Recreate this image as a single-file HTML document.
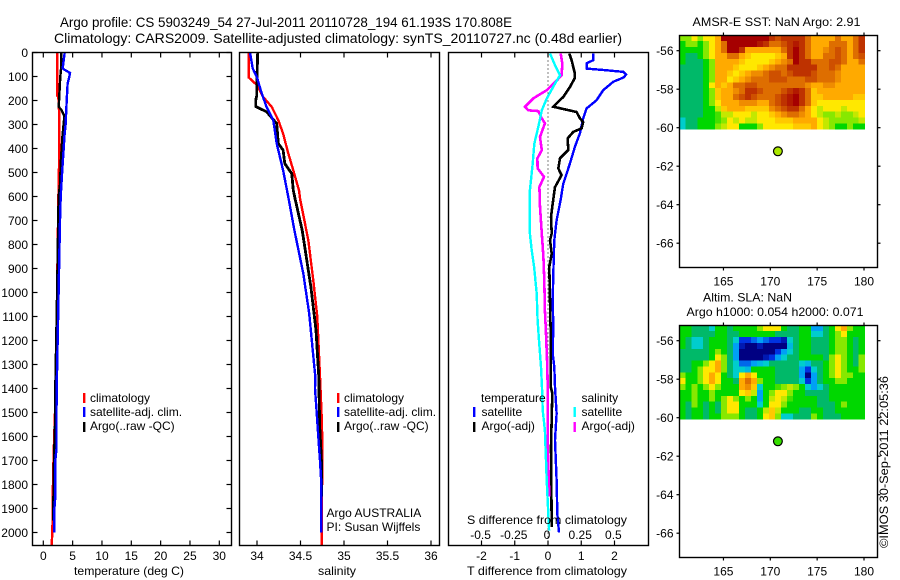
<!DOCTYPE html>
<html>
<head>
<meta charset="utf-8">
<title>Argo profile chart</title>
<style>
html,body{margin:0;padding:0;background:#fff;}
svg{display:block;}
text{font-family:"Liberation Sans",sans-serif;font-size:12px;fill:#000;}
.title{font-size:14px;}
.frame{fill:none;stroke:#000;stroke-width:1.4;}
</style>
</head>
<body>
<svg id="chart" xmlns="http://www.w3.org/2000/svg" width="900" height="580" viewBox="0 0 900 580">
<rect width="900" height="580" fill="#fff"/>
<text class="title" x="60" y="27" textLength="452" lengthAdjust="spacingAndGlyphs">Argo profile: CS 5903249_54 27-Jul-2011 20110728_194 61.193S 170.808E</text>
<text class="title" x="54" y="43" textLength="568" lengthAdjust="spacingAndGlyphs">Climatology: CARS2009. Satellite-adjusted climatology: synTS_20110727.nc (0.48d earlier)</text>

<g id="heat1"></g>
<g id="heat2"></g>
<g id="series"></g>
<g id="axes"></g>

<rect class="frame" x="32.5" y="52.5" width="199" height="493"/>
<rect class="frame" x="239.5" y="52.5" width="200" height="493"/>
<rect class="frame" x="448.5" y="52.5" width="200" height="493"/>
<rect class="frame" x="679.5" y="35.5" width="198" height="232"/>
<rect class="frame" x="679.5" y="325.5" width="198" height="232"/>

<text x="74" y="575" textLength="110" lengthAdjust="spacingAndGlyphs">temperature (deg C)</text>
<text x="318" y="575" textLength="38" lengthAdjust="spacingAndGlyphs">salinity</text>
<text x="467" y="575" textLength="160" lengthAdjust="spacingAndGlyphs">T difference from climatology</text>
<text x="467" y="524" textLength="160" lengthAdjust="spacingAndGlyphs">S difference from climatology</text>

<g>
<rect x="83" y="393" width="2.4" height="10" fill="#f00"/>
<text x="90" y="402">climatology</text>
<rect x="83" y="407" width="2.4" height="10" fill="#00f"/>
<text x="90" y="416">satellite-adj. clim.</text>
<rect x="83" y="422" width="2.4" height="10" fill="#000"/>
<text x="90" y="430">Argo(..raw -QC)</text>
</g>
<g>
<rect x="337" y="393" width="2.4" height="10" fill="#f00"/>
<text x="344" y="402">climatology</text>
<rect x="337" y="407" width="2.4" height="10" fill="#00f"/>
<text x="344" y="416">satellite-adj. clim.</text>
<rect x="337" y="422" width="2.4" height="10" fill="#000"/>
<text x="344" y="430">Argo(..raw -QC)</text>
</g>
<text x="326.5" y="517">Argo AUSTRALIA</text>
<text x="326.5" y="531">PI: Susan Wijffels</text>
<g>
<text x="481" y="402">temperature</text>
<text x="581.5" y="402">salinity</text>
<rect x="473" y="407" width="2.4" height="10" fill="#00f"/>
<text x="481.5" y="416">satellite</text>
<rect x="473" y="422" width="2.4" height="10" fill="#000"/>
<text x="481.5" y="430">Argo(-adj)</text>
<rect x="573.5" y="407" width="2.4" height="10" fill="#0ff"/>
<text x="581.5" y="416">satellite</text>
<rect x="573.5" y="422" width="2.4" height="10" fill="#f0f"/>
<text x="581.5" y="430">Argo(-adj)</text>
</g>

<text x="692.5" y="26" textLength="168" lengthAdjust="spacingAndGlyphs">AMSR-E SST: NaN  Argo: 2.91</text>
<text x="703" y="301.5" textLength="89" lengthAdjust="spacingAndGlyphs">Altim. SLA: NaN</text>
<text x="686.5" y="316" textLength="177" lengthAdjust="spacingAndGlyphs">Argo h1000: 0.054 h2000: 0.071</text>
<text transform="translate(888,548) rotate(-90)" textLength="172" lengthAdjust="spacingAndGlyphs">©IMOS 30-Sep-2011 22:05:36</text>
</svg>
<script>
// ---- axis tick data ----
const depthTicks = [0,100,200,300,400,500,600,700,800,900,1000,1100,1200,1300,1400,1500,1600,1700,1800,1900,2000];
const tempTicks = [0,5,10,15,20,25,30];
const salTicks = [34,34.5,35,35.5,36];
const salTickLabels = ['34','34.5','35','35.5','36'];
const tDiffTicks = [-2,-1,0,1,2];
const sDiffTicks = [-0.5,-0.25,0,0.25,0.5];
const sDiffTickLabels = ['-0.5','-0.25','0','0.25','0.5'];
const lonTicks = [165,170,175,180];
const latTicks = [-56,-58,-60,-62,-64,-66];

// ---- temperature panel series ----
const tClimDepth = [0,180,181,250,400,550,800,1000,1200,1400,1500,1680,1850,2000,2055];
const tClimValue = [2.4,2.4,2.55,2.7,2.75,2.6,2.45,2.35,2.2,2.05,2.0,1.75,1.6,1.55,1.4];
const tSatDepth = [0,65,70,85,100,130,200,300,350,400,500,600,700,1000,1400,1500,1650,1700,1850,1900,2000];
const tSatValue = [3.64,3.3,3.5,4.55,4.45,4.15,3.98,3.8,3.6,3.47,3.2,2.96,2.85,2.6,2.28,2.25,2.25,2.05,2.05,1.9,1.85];
const tArgoDepth = [0,60,100,220,225,240,265,350,450,550,600,1000,1400,1550,1700,1800,1900,1950];
const tArgoValue = [3.07,3.05,2.9,2.65,2.6,3.1,3.6,3.25,3.0,2.85,2.6,2.35,2.05,2.0,1.82,1.75,1.7,1.7];

// ---- salinity panel series ----
const sClimDepth = [0,104,136,185,227,282,338,421,491,574,608,782,949,1102,1351,1450,1550,1700,2000,2055];
const sClimValue = [33.905,33.905,34.0,34.07,34.17,34.245,34.30,34.36,34.417,34.483,34.494,34.59,34.647,34.693,34.724,34.736,34.747,34.75,34.743,34.743];
const sSatDepth = [0,66,104,170,227,282,379,491,574,602,741,921,1088,1351,1400,1500,1600,1700,1800,2000];
const sSatValue = [33.92,33.95,34.0,34.054,34.11,34.187,34.226,34.30,34.345,34.36,34.43,34.532,34.60,34.67,34.667,34.686,34.705,34.724,34.74,34.74];
const sArgoDepth = [0,100,180,200,225,247,296,379,407,463,505,574,608,741,977,1157,1351,1400,1550,1700,1851];
const sArgoValue = [34.008,34.0,33.996,33.985,33.985,34.11,34.226,34.245,34.30,34.32,34.40,34.417,34.437,34.52,34.62,34.678,34.71,34.713,34.72,34.74,34.745];

// ---- difference panel series ----
const dtSatDepth = [4,32,45,67,74,81,92,104,122,157,199,233,274,337,393,463,546,615,699,782,921,1032,1143,1254,1310,1393,1504,1615,1782,1921,2000];
const dtSatValue = [1.36,1.36,1.16,1.16,1.77,2.27,2.35,2.27,1.96,1.66,1.46,1.16,1.06,0.96,0.81,0.66,0.46,0.38,0.26,0.19,0.16,0.14,0.16,0.14,0.19,0.21,0.26,0.21,0.26,0.28,0.33];
const dtArgoDepth = [4,32,88,106,144,185,226,237,248,274,290,316,331,358,406,441,483,511,561,629,685,754,782,838,893,1032,1171,1393,1420,1643,1977];
const dtArgoValue = [0.64,0.71,0.81,0.81,0.66,0.46,0.16,0.51,0.86,0.96,1.06,1.01,0.76,0.59,0.61,0.36,0.31,0.41,0.21,0.14,0.09,0.11,0.06,0.11,0.04,0.06,0.08,0.08,0.13,0.09,0.11];
const dsSatDepth = [4,53,95,130,192,241,310,380,463,574,754,824,893,1005,1116,1199,1310,1398,1490,1574,1782,1921,1992];
const dsSatValue = [0.015,0.053,0.09,0.053,-0.01,-0.047,-0.073,-0.103,-0.115,-0.136,-0.136,-0.123,-0.105,-0.085,-0.078,-0.068,-0.053,-0.045,-0.04,-0.023,-0.01,0.002,0.008];
const dsArgoDepth = [4,46,95,124,157,191,226,241,244,274,295,352,407,441,483,518,560,643,754,852,949,1074,1171,1310,1393,1643,1824,1850];
const dsArgoValue = [0.096,0.108,0.103,0.053,-0.01,-0.11,-0.173,-0.148,-0.073,-0.047,-0.023,-0.06,-0.047,-0.08,-0.078,-0.03,-0.065,-0.06,-0.047,-0.035,-0.028,-0.023,-0.015,-0.005,-0.002,-0.002,0.008,0.008];
const zeroLineDepth = [0,2055];
const zeroLineValue = [0,0];

// ---- map data: colour-level grids, one row per latitude band ----
const sstGrid = [
[6,6,7,6,7,7,8,11,11,11,11,11,11,11,11,10,9.5,10,10,10,10,9,8,8,8,8,9,8,8,9,10],
[5,6,6,5,6,7,8,9,11,11,11,11,11,10.5,10,9,9,9.5,10,10.5,10,9,8,8,8,9,9,9,8,9,10],
[5,5,5,5,6,7,8,9,11,11,10,8,8,8,8,8,8,9,10,11,10,9,8,8,8.5,9,9.5,9,8,9,10],
[5,4,4,5,6,7,8,8,9,9,8,7.5,7,7,7,7,7.5,8,10,11,10,9,8,8,9,9,9.5,9,8,9,9.5],
[5,4,4,4,5,6,8,8,8,8,7.5,7,7,7,7,7.5,8,8.5,9,11,10,10,9,9,9,9.5,9.5,9,8,8,9],
[4,4,4,4,5,6,8,8,8,7.5,7,7,7,7.5,8,8.5,9,9,10,10,10,10,10,9,9,9.5,9,8,8,8,8],
[4,4,4,4,5,6,8,8,7.5,7,7.5,8,8.5,8.5,9,9.5,9.5,9,9.5,10,10,10,9.5,9,9,9,8.5,8,8,8,8],
[4,4,4,4,5,6,8,8,7,7.5,8,8.5,9,9,9,9.5,9.5,9.5,9,9,9,9.5,9.5,9,9,9,8.5,8,8,8,8],
[4,4,4,4,5,7,8,7.5,8,9,9,9.5,9.5,9,9,9,9,9,9,9,9,8.5,8,8,8.5,8.5,8,8,8,8,8],
[4,4,4,4,5,6,7.5,8,8,8.5,9,10,10,9.5,9,9,9,9.5,10,10.5,10,9,7.5,8,8,8,8,8,8,8,8],
[4,4,4,4,5,6,7.5,8,8,9,9.5,10,9.5,9,9,9,9.5,10,10.5,11,10,9,7.5,7.5,8,8,8,8,8,7.5,7.5],
[4,4,4,4,5,6,7,8,8,8,8.5,8.5,8.5,8,8,9,9.5,10,10.5,11,10,9,7.5,7,7,7,7,7,7,7,7],
[4,4,4,4,5,5,6.5,7.5,8,8,8,7.5,7.5,7.5,7.5,8.5,9,9.5,10,10,9,8,7,6.5,7,7,7,6.5,7,7,7],
[4,4,4,4,5,5,5.5,6.5,6.5,7,7,7,6.5,7,7,7.5,8,8.5,9,9,8.5,8,7,6.5,6,6,6.5,6,6,6.5,7],
[3,4,4,5,5,5,5.5,6,7,6.5,7,6.5,6.5,7,7,7,7.5,7.5,7.5,8,8,8,8,7,6.5,6,6,6,6,6,6.5],
[3,4,4,5,5,5,6,6.5,7,7,5,5,5,6,7,7,7,7,7,7.5,7.5,7.5,8,7,6.5,6,5,5,6,5,5]
];
const slaGrid = [
[5,5,4,4,4,3,5,5,4,5,5,5,5,6,7,7,7,5,4,4,5,5,2,2,4,5,7,8,6,5,5],
[5,5,4,4,4,4,5,5,4,4,5,5,5,5,5,5,4,4,4,4,5,5,3,3,4,5,6,7,5,5,5],
[5,4,3,3,4,5,5,5,4,3,1,1,1.5,2,1.5,1,1,0.5,3,4,5,5,4,4,4,5,6,6,5,4,5],
[5,4,3,3,4,5,5,5,4,2,0.5,0,0,0.5,0,0,0,0,2.5,4,5,5,4,4,4,5,6,6,5,4,5],
[4,4,4,4,4,5,6,5,4,2,0,0,0,0,0,0,1,2,3,4,5,5,4,4,4,5,6,6,5,4,5],
[4,4,4,4,4,5,7,6,4,2,0,0,0,0,0.5,1,2,3,4,4,5,5,5,5,4,6,7,6,5,4,6],
[4,4,5,5,6,7,8,6,4,3,1.5,1.5,2,2.5,3,4,4,4,4,4,3,2.5,4,4,5,6,7,6,5,4,6],
[4,4,5,6,7,7,8,6,4,3,3,2.5,5,5,5,5,4,4,4,4,2,1,3,4,5,6,7,6,5,5,6],
[6,5,5,6,7,8,7,5,4,3,7,8,7,5,5,5,4,4,4,4,2,0,2,4,5,6,7,6,6,5,5],
[7,5,5,6,7,8,7,5,5,4,8,9,8,6,5,5,4,4,4,4,3,1,2,4,5,5,6,6,5,5,5],
[6,5,6,5,6,7,6,5,5,5,8,8.5,7.5,3,5,5,5.5,6,6.5,6,5,3,2,3,4,5,5,5,5,5,5],
[5,5,6,5,5,6,5,5,5,5,7,7.5,6.5,2,5,6,7,7,6,5,5,4,4,4,4,5,5,5,5,5,5],
[5,5,6,5,5,6,5,6,7,6,5,6,5,2,5,6.5,7,6.5,5.5,5,5,5,5,4,4,5,5,5,5,5,5],
[5,4,6,5,4,5,4,6,7,7,5,5,5,3,5,7,7,6,5,5,5,5,5,4,4,4,5,6,5,5,5],
[5,4,5,5,4,5,4,6,7,7,5,4,4,5,6.5,7.5,6.5,5,5,5,4,4,5,5,4,4,5,5,5,5,5],
[5,4,5,5,4,5,5,6,6,6,5,4,4,5,7,7.5,6,3,3,4,4,4,6,5,4,4,4,5,5,5,5]
];
const floatLon = [170.808];
const floatLat = [-61.193];
const floatLevelSst = [6.3];
const floatLevelSla = [5.4];

// ---- scales ----
const NS = 'http://www.w3.org/2000/svg';
const yDepth = d => 52.5 + 0.24 * d;
const xTemp = v => 43.3 + 5.867 * v;
const xSal = v => 257 + 87 * (v - 34);
const xTDiff = v => 548 + 33.25 * v;
const xSDiff = v => 548 + 132.8 * v;
const xLon = lon => 770.3 + 9.37 * (lon - 170);
const yLat1 = lat => 50.7 + 19.25 * (-56 - lat);
const yLat2 = lat => 340.7 + 19.25 * (-56 - lat);

const levelStops = [[0,0,130],[0,50,225],[0,160,245],[0,205,205],[0,185,105],[0,215,0],[135,232,0],[255,232,0],[255,170,0],[222,110,0],[190,50,0],[165,0,0]];
function levelColor(v){
  const i = Math.max(0, Math.min(levelStops.length - 2, Math.floor(v)));
  const f = Math.max(0, Math.min(1, v - i));
  const a = levelStops[i], b = levelStops[i + 1];
  return 'rgb(' + [0,1,2].map(k => Math.round(a[k] + (b[k] - a[k]) * f)).join(',') + ')';
}

const axesG = document.getElementById('axes');
const seriesG = document.getElementById('series');

function drawLine(x1, y1, x2, y2, name){
  const el = document.createElementNS(NS, 'line');
  el.setAttribute('x1', x1);
  el.setAttribute('y1', y1);
  el.setAttribute('x2', x2);
  el.setAttribute('y2', y2);
  el.setAttribute('stroke', '#000');
  el.setAttribute('stroke-width', '1.2');
  
  
  axesG.appendChild(el);
}
function drawLabel(x, y, str, anchor, name){
  const el = document.createElementNS(NS, 'text');
  el.setAttribute('x', x);
  el.setAttribute('y', y);
  el.setAttribute('text-anchor', anchor);
  el.textContent = str;
  
  
  axesG.appendChild(el);
}
function drawSeries(depths, values, xScale, color, width, name, dash){
  const el = document.createElementNS(NS, 'polyline');
  el.setAttribute('points', depths.map((d, i) => xScale(values[i]).toFixed(1) + ',' + yDepth(d).toFixed(1)).join(' '));
  el.setAttribute('fill', 'none');
  el.setAttribute('stroke', color);
  el.setAttribute('stroke-width', width);
  if (dash) { el.setAttribute('stroke-dasharray', dash); }
  el.setAttribute('shape-rendering', dash ? 'auto' : 'crispEdges');
  
  
  seriesG.appendChild(el);
}
function drawHeat(groupId, grid, yScale, marker, name){
  const g = document.getElementById(groupId);
  const lonStart = 160.29, dLon = 0.6383;
  const latStart = -55.2, dLat = 0.3052;
  grid.forEach((row, r) => {
    row.forEach((v, c) => {
      const x0 = xLon(lonStart + c * dLon), x1 = xLon(lonStart + (c + 1) * dLon);
      const y0 = yScale(latStart - r * dLat), y1 = yScale(latStart - (r + 1) * dLat);
      const el = document.createElementNS(NS, 'rect');
      el.setAttribute('x', x0.toFixed(2));
      el.setAttribute('y', y0.toFixed(2));
      el.setAttribute('width', (x1 - x0 + 0.4).toFixed(2));
      el.setAttribute('height', (y1 - y0 + 0.4).toFixed(2));
      el.setAttribute('fill', levelColor(v));
      el.setAttribute('shape-rendering', 'crispEdges');
      
      
      g.appendChild(el);
    });
  });
  const dot = document.createElementNS(NS, 'circle');
  dot.setAttribute('cx', xLon(floatLon[0]).toFixed(1));
  dot.setAttribute('cy', (yScale(floatLat[0]) + 0.6).toFixed(1));
  dot.setAttribute('r', '4.4');
  dot.setAttribute('fill', levelColor(marker));
  dot.setAttribute('stroke', '#000');
  dot.setAttribute('stroke-width', '1.2');
  
  
  g.appendChild(dot);
}

// ---- heatmaps ----
drawHeat('heat1', sstGrid, yLat1, floatLevelSst[0], 'sst-float-position-marker');
drawHeat('heat2', slaGrid, yLat2, floatLevelSla[0], 'sla-float-position-marker');

// ---- series ----
drawSeries(tClimDepth, tClimValue, xTemp, '#f00', 2.4, 'temperature-climatology-line');
drawSeries(tArgoDepth, tArgoValue, xTemp, '#000', 2.4, 'temperature-argo-line');
drawSeries(tSatDepth, tSatValue, xTemp, '#00f', 2.4, 'temperature-satellite-line');
drawSeries(sClimDepth, sClimValue, xSal, '#f00', 2.4, 'salinity-climatology-line');
drawSeries(sArgoDepth, sArgoValue, xSal, '#000', 2.8, 'salinity-argo-line');
drawSeries(sSatDepth, sSatValue, xSal, '#00f', 2.4, 'salinity-satellite-line');
drawSeries(zeroLineDepth, zeroLineValue, xTDiff, '#000', 1, 'zero-difference-line', '1 3');
drawSeries(dtSatDepth, dtSatValue, xTDiff, '#00f', 2.4, 't-difference-satellite-line');
drawSeries(dtArgoDepth, dtArgoValue, xTDiff, '#000', 2.6, 't-difference-argo-line');
drawSeries(dsArgoDepth, dsArgoValue, xSDiff, '#f0f', 2.6, 's-difference-argo-line');
drawSeries(dsSatDepth, dsSatValue, xSDiff, '#0ff', 2.4, 's-difference-satellite-line');

// ---- profile panel axes ----
depthTicks.forEach(d => {
  const y = yDepth(d);
  drawLine(32.5, y, 37.5, y, 'depth-tick-left');
  drawLine(226.5, y, 231.5, y, 'depth-tick-right');
  drawLabel(28, y + 4.5, String(d), 'end', 'depth-tick-label');
});
tempTicks.forEach(v => {
  const x = xTemp(v);
  drawLine(x, 52.5, x, 57.5, 'temperature-tick-top');
  drawLine(x, 540.5, x, 545.5, 'temperature-tick-bottom');
  drawLabel(x, 560, String(v), 'middle', 'temperature-tick-label');
});
salTicks.forEach((v, i) => {
  const x = xSal(v);
  drawLine(x, 52.5, x, 57.5, 'salinity-tick-top');
  drawLine(x, 540.5, x, 545.5, 'salinity-tick-bottom');
  drawLabel(x, 560, salTickLabels[i], 'middle', 'salinity-tick-label');
});
tDiffTicks.forEach(v => {
  const x = xTDiff(v);
  drawLine(x, 52.5, x, 57.5, 't-difference-tick-top');
  drawLine(x, 540.5, x, 545.5, 't-difference-tick-bottom');
  drawLabel(x, 560, String(v), 'middle', 't-difference-tick-label');
});
sDiffTicks.forEach((v, i) => {
  drawLabel(xSDiff(v) - 1, 539, sDiffTickLabels[i], 'middle', 's-difference-tick-label');
});

// ---- map axes ----
[[yLat1, 35.5, 267.5, 'sst'], [yLat2, 325.5, 557.5, 'sla']].forEach(m => {
  lonTicks.forEach(lon => {
    const x = xLon(lon);
    drawLine(x, m[1] - 3, x, m[1], m[3] + '-longitude-tick-top');
    drawLine(x, m[2], x, m[2] + 3, m[3] + '-longitude-tick-bottom');
    drawLabel(x, m[2] + 18, String(lon), 'middle', m[3] + '-longitude-tick-label');
  });
  latTicks.forEach(lat => {
    const y = m[0](lat);
    drawLine(676.5, y, 679.5, y, m[3] + '-latitude-tick-left');
    drawLine(877.5, y, 880.5, y, m[3] + '-latitude-tick-right');
    drawLabel(673.5, y + 4.5, String(lat), 'end', m[3] + '-latitude-tick-label');
  });
});
</script>
</body>
</html>
